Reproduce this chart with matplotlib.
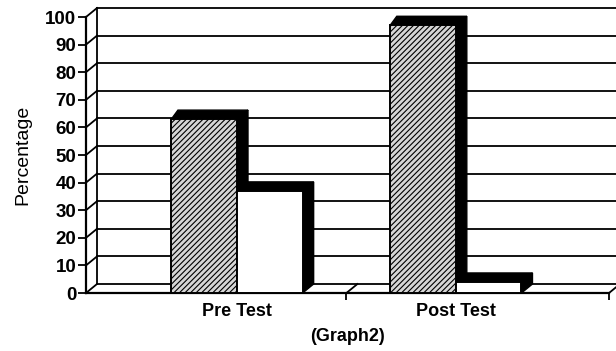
import matplotlib.pyplot as plt
from matplotlib.patches import Polygon, Rectangle

# ------------ Data ------------
categories = ["Pre Test", "Post Test"]
hatched_vals = [63, 97]
plain_vals = [37, 4]
y_ticks = list(range(0, 101, 10))

plt.rcParams['font.family'] = ['Liberation Sans', 'DejaVu Sans']
plt.rcParams['hatch.linewidth'] = 0.8

W, H = 616, 351
fig = plt.figure(figsize=(W / 100, H / 100), dpi=100)
# front plane of the 3D box, in pixels
left, right, bottom, top = 86, 609, 293, 17
ax = fig.add_axes([left / W, 1 - bottom / H, (right - left) / W, (bottom - top) / H])

x0, x1 = -0.69, 1.70
ax.set_xlim(x0, x1)
ax.set_ylim(0, 100)

# depth offset (pixels -> data units)
px_x = (x1 - x0) / (right - left)
px_y = 100 / (bottom - top)
dx, dy = 11 * px_x, 9 * px_y

line_kw = dict(color='black', lw=1.3, clip_on=False, zorder=1)

# back wall gridlines + left wall diagonals
for v in y_ticks:
    ax.plot([x0 + dx, x1 + dx], [v + dy, v + dy], **line_kw)
    ax.plot([x0, x0 + dx], [v, v + dy], **line_kw)
ax.plot([x0 + dx, x0 + dx], [dy, 100 + dy], **line_kw)
ax.plot([x0, x0], [0, 100], color='black', lw=1.6, clip_on=False, zorder=1)

# floor
ax.plot([x0, x1], [0, 0], color='black', lw=1.6, clip_on=False, zorder=1)
for xb in [0.5, x1]:
    ax.plot([xb, xb + dx], [0, dy], **line_kw)

# ------------ Bars ------------
bw = 0.30
def bar3d(xc, h, front_kw):
    xl, xr = xc - bw / 2, xc + bw / 2
    top_face = [(xl, h), (xr, h), (xr + dx, h + dy), (xl + dx * 0.6, h + dy)]
    side_face = [(xr, 0), (xr + dx, dy), (xr + dx, h + dy), (xr, h)]
    ax.add_patch(Polygon(top_face, closed=True, fc='black', ec='black', lw=1, clip_on=False, zorder=3))
    ax.add_patch(Polygon(side_face, closed=True, fc='black', ec='black', lw=1, clip_on=False, zorder=3))
    ax.add_patch(Rectangle((xl, 0), bw, h, lw=1.4, ec='black', clip_on=False, zorder=3, **front_kw))

for i in range(len(categories)):
    bar3d(i - bw / 2, hatched_vals[i], dict(fc='#d6d6d6', hatch='//////'))
    bar3d(i + bw / 2, plain_vals[i], dict(fc='white'))

# ------------ Axes styling ------------
for s in ax.spines.values():
    s.set_visible(False)
ax.set_yticks(y_ticks)
ax.tick_params(axis='y', direction='out', length=6, width=1.3, pad=1, labelsize=13.5)
for t in ax.get_yticklabels():
    t.set_fontweight('bold')
ax.set_xticks(range(len(categories)))
ax.set_xticklabels(categories, fontsize=13, fontweight='bold')
ax.tick_params(axis='x', length=0, pad=7)
ax.set_xticks([0.5, x1], minor=True)
ax.tick_params(axis='x', which='minor', direction='out', length=5, width=1.3)
ax.set_xlabel("(Graph2)", fontsize=13, fontweight='bold', labelpad=6)
ax.set_ylabel("Percentage", fontsize=14, labelpad=10)
ax.patch.set_alpha(0)

fig.savefig("out.png", dpi=100)
